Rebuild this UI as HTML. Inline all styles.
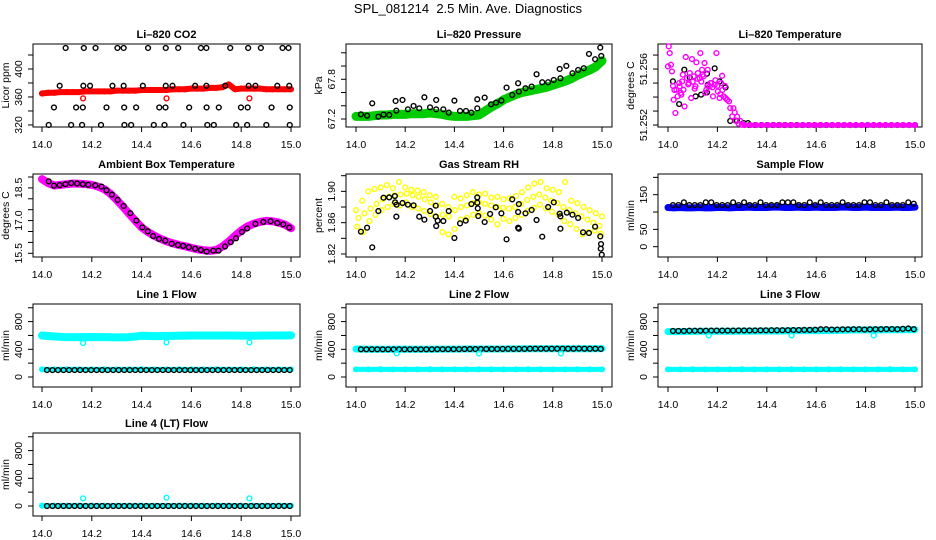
<!DOCTYPE html>
<html><head><meta charset="utf-8"><style>
html,body{margin:0;padding:0;background:#fff;}
svg{display:block;font-family:"Liberation Sans",Arial,sans-serif;}
</style></head><body>
<svg id="chart" width="936" height="540" viewBox="0 0 936 540" xmlns="http://www.w3.org/2000/svg">
<rect x="0" y="0" width="936" height="540" fill="#fff"/>
<text x="468" y="13" text-anchor="middle" font-size="13" xml:space="preserve" style="white-space:pre">SPL_081214  2.5 Min. Ave. Diagnostics</text>
</svg>
<script>
// ---------- data ----------
const co2Red=[365,366,366,367,367,367,367,368,368,368,368,368,369,369,369,369,370,370,370,370,370,371,371,371,372,372,372,373,373,374,378,371,372,372,372,372,371,371,371,371,371];
const co2RedOutX=[14.165,14.5,14.833];
const co2RedOut=[358,358,358];
const co2BlackX=[14.095,14.168,14.215,14.303,14.328,14.426,14.497,14.547,14.638,14.660,14.756,14.828,14.879,14.966,14.990,
14.071,14.166,14.193,14.283,14.328,14.405,14.497,14.524,14.615,14.660,14.736,14.830,14.857,14.945,14.993,
14.048,14.137,14.164,14.259,14.330,14.378,14.471,14.496,14.591,14.661,14.710,14.799,14.826,14.922,14.995,
14.027,14.117,14.161,14.237,14.331,14.358,14.449,14.492,14.568,14.664,14.690,14.780,14.824,14.901,14.995];
const co2Black=[430,430,430,430,430,430,430,430,430,430,430,430,430,430,430,
376,376,376,376,376,376,376,376,376,376,376,376,376,376,376,
345,345,345,345,345,345,345,345,345,345,345,345,345,345,345,
320,320,320,320,320,320,320,320,320,320,320,320,320,320,320];

const presGreen=[67.24,67.24,67.24,67.25,67.26,67.26,67.27,67.27,67.27,67.28,67.28,67.28,67.29,67.28,67.27,67.25,67.24,67.24,67.24,67.25,67.26,67.32,67.38,67.43,67.49,67.53,67.57,67.60,67.62,67.64,67.66,67.68,67.71,67.74,67.77,67.81,67.86,67.90,67.94,67.99,68.08];
const presBlackX=[14.020,14.045,14.066,14.091,14.112,14.135,14.161,14.164,14.189,14.211,14.234,14.257,14.278,14.301,14.326,14.326,14.355,14.377,14.400,14.423,14.447,14.469,14.493,14.493,14.523,14.549,14.569,14.591,14.612,14.635,14.659,14.662,14.689,14.714,14.734,14.757,14.781,14.804,14.828,14.831,14.855,14.880,14.903,14.926,14.947,14.972,14.993,14.997];
const presBlack=[67.271,67.250,67.437,67.235,67.266,67.261,67.472,67.326,67.487,67.346,67.397,67.361,67.528,67.376,67.487,67.346,67.346,67.296,67.477,67.321,67.321,67.296,67.498,67.361,67.523,67.422,67.447,67.477,67.674,67.563,67.740,67.614,67.664,67.689,67.876,67.755,67.755,67.790,67.956,67.815,68.002,67.891,67.941,67.967,68.183,68.103,68.279,68.153];

const tempMagX=[14.003,14.007,14.000,14.012,14.016,14.023,14.030,14.034,14.039,14.047,14.054,14.057,14.063,14.067,14.072,14.077,14.084,14.088,14.094,14.097,14.104,14.111,14.115,14.121,14.128,14.131,14.138,14.144,14.148,14.155,14.161,14.169,14.175,14.182,14.189,14.196,14.202,14.209,14.215,14.219,14.225,14.233,14.239,14.247,14.252,14.260,14.273,14.286,14.300,
14.020,14.045,14.060,14.100,14.120,14.140,14.160,14.180,14.200,14.220,14.240,14.265,14.270,14.280,14.292,
14.026,14.052,14.082,14.108,14.135,14.150,14.172,14.192,14.212,14.230];
const tempMag=[51.25762,51.25714,51.25619,51.25631,51.25583,51.25381,51.25286,51.25452,51.25405,51.25476,51.25417,51.25512,51.25452,51.25333,51.25686,51.25536,51.25500,51.25571,51.25393,51.25671,51.25548,51.25476,51.25648,51.25571,51.25536,51.25714,51.25595,51.25548,51.25643,51.25452,51.25595,51.25476,51.25500,51.25405,51.25488,51.25714,51.25440,51.25393,51.25500,51.25552,51.25405,51.25393,51.25381,51.25369,51.25321,51.25262,51.25231,51.25210,51.25202,
51.2548,51.2550,51.2556,51.2551,51.2553,51.2556,51.2548,51.2547,51.2548,51.2545,51.2538,51.2532,51.2529,51.2526,51.2523,
51.2545,51.2543,51.2549,51.2546,51.2551,51.2543,51.2550,51.2552,51.2542,51.2548];
const tempFlat=[51.2520,51.2520,51.2520,51.2520,51.2520,51.2520,51.2520,51.2520,51.2520,51.2520,51.2520,51.2520,51.2520,51.2520,51.2520,51.2520,51.2520,51.2520,51.2520,51.2520,51.2520,51.2520,51.2520,51.2520,51.2520,51.2520,51.2520,51.2520,51.2520,51.2520];
const tempBlackX=[14.020,14.045,14.066,14.088,14.112,14.134,14.158,14.161,14.158,14.189,14.209,14.233,14.252,14.279,14.306,14.324];
const tempBlack=[51.25512,51.25350,51.25595,51.25540,51.25405,51.25417,51.25433,51.25488,51.25567,51.25605,51.25512,51.25469,51.25229,51.25231,51.25214,51.25214];
const tempBlackFlat=[51.2520,51.2520,51.2520,51.2520,51.2520,51.2520,51.2520,51.2520,51.2520,51.2520,51.2520,51.2520,51.2520,51.2520,51.2520,51.2520,51.2520,51.2520,51.2520,51.2520,51.2520,51.2520,51.2520,51.2520,51.2520,51.2520,51.2520,51.2520,51.2520];

const ambMag=[18.90,18.72,18.61,18.64,18.67,18.70,18.69,18.67,18.64,18.56,18.44,18.23,17.95,17.64,17.31,16.99,16.69,16.48,16.31,16.17,16.05,15.96,15.88,15.82,15.75,15.68,15.64,15.61,15.65,15.81,16.04,16.30,16.54,16.73,16.85,16.94,16.99,16.97,16.91,16.82,16.65];
const ambBlackX=[14.027,14.048,14.071,14.094,14.117,14.141,14.164,14.186,14.214,14.239,14.259,14.281,14.304,14.328,14.355,14.379,14.403,14.425,14.446,14.470,14.495,14.521,14.546,14.567,14.590,14.615,14.638,14.661,14.688,14.709,14.735,14.758,14.779,14.803,14.824,14.857,14.889,14.918,14.945,14.969,14.993];
const ambBlack=[18.80,18.60,18.63,18.67,18.72,18.70,18.67,18.64,18.62,18.56,18.39,18.19,17.95,17.67,17.34,17.00,16.69,16.51,16.29,16.16,16.08,15.94,15.88,15.84,15.78,15.71,15.65,15.58,15.62,15.62,15.81,16.01,16.19,16.48,16.64,16.85,16.94,16.97,16.89,16.83,16.68];

const rhMid=[1.866,1.872,1.878,1.884,1.890,1.893,1.895,1.896,1.897,1.895,1.893,1.890,1.886,1.882,1.870,1.868,1.876,1.880,1.882,1.885,1.886,1.884,1.882,1.880,1.879,1.878,1.880,1.884,1.889,1.893,1.896,1.892,1.888,1.885,1.880,1.876,1.872,1.868,1.864,1.860,1.856];
const rhHi=[1.876,1.888,1.900,1.903,1.905,1.908,1.904,1.912,1.905,1.902,1.901,1.899,1.895,1.893,1.884,1.880,1.893,1.891,1.895,1.899,1.896,1.897,1.892,1.893,1.890,1.891,1.894,1.899,1.905,1.910,1.912,1.904,1.902,1.899,1.912,1.888,1.885,1.880,1.876,1.872,1.868];
const rhLo=[1.855,1.848,1.862,1.870,1.876,1.880,1.884,1.882,1.886,1.880,1.878,1.875,1.871,1.868,1.848,1.845,1.852,1.864,1.866,1.870,1.872,1.869,1.864,1.858,1.865,1.862,1.866,1.870,1.875,1.879,1.883,1.878,1.874,1.870,1.862,1.858,1.852,1.845,1.848,1.850,1.846];
const rhBlackX=[14.020,14.045,14.066,14.091,14.112,14.135,14.158,14.159,14.164,14.165,14.189,14.211,14.234,14.257,14.278,14.301,14.324,14.324,14.326,14.332,14.355,14.377,14.400,14.423,14.446,14.469,14.493,14.493,14.495,14.497,14.523,14.545,14.568,14.591,14.612,14.635,14.659,14.659,14.662,14.662,14.689,14.714,14.734,14.757,14.781,14.804,14.828,14.831,14.831,14.857,14.880,14.903,14.923,14.947,14.972,14.993,14.996,14.995,14.999];
const rhBlack=[1.8485,1.8536,1.8285,1.8749,1.8919,1.8923,1.8940,1.8860,1.8677,1.8830,1.8851,1.8830,1.8821,1.8677,1.8638,1.8749,1.8817,1.8677,1.8557,1.8626,1.8621,1.8749,1.8404,1.8591,1.8626,1.8838,1.8923,1.8855,1.8783,1.8685,1.8608,1.8711,1.8796,1.8719,1.8387,1.8898,1.8736,1.8536,1.8523,1.8838,1.8719,1.8762,1.8634,1.8421,1.8800,1.8860,1.8715,1.8681,1.8523,1.8728,1.8702,1.8660,1.8477,1.8468,1.8549,1.8425,1.8327,1.8268,1.8191];

const sampleBlue=[113,112,113,112,112,113,112,112,113,113,112,113,113,114,113,113,113,114,114,113,113,114,113,113,114,113,113,113,114,114,113,113,114,113,113,113,113,114,113,113,114];
const sampleBlack=[120,120,128,120,120,120,128,128,120,120,120,128,120,128,120,120,128,120,120,120,128,128,128,120,120,128,120,128,120,120,120,128,120,120,120,128,128,120,120,128,120,120,120,128,124];

const line1Hi=[600,585,575,575,578,575,572,575,595,590,592,595,600,600,600,600,598,595,600,600,602];
const line1Lo=[110,110,112,110,110,111,110,110,112,110,110,111,110,110,112,110,110,111,110,110,110];
const line1Black=[100,100,100,100,100,100,100,100,100,100,100,100,100,100,100,100,100,100,100,100,100,100,100,100,100,100,100,100,100,100,100,100,100,100,100,100,100,100,100,100,100,100,100,100,100];
const line1OutX=[14.165,14.5,14.833];
const line1Out=[490,500,500];

const line2Hi=[405,400,400,400,402,400,400,402,402,404,404,405,405,406,408,408,408,408,408,408,410];
const line2Lo=[110,110,111,110,110,110,111,110,110,110,111,110,110,110,111,110,110,110,111,110,110];
const line2Black=[400,400,400,400,400,400,400,400,400,400,400,400,400,400,402,402,402,402,402,404,404,404,404,404,404,404,406,406,406,406,406,408,408,408,408,408,408,408,408,408,410,408,408,408,405];
const line2OutX=[14.165,14.5,14.833];
const line2Out=[340,340,340];

const line3Hi=[655,655,658,660,660,660,662,662,665,665,668,670,670,672,675,678,680,680,682,682,685];
const line3Lo=[110,110,111,110,110,110,111,110,110,110,111,110,110,110,111,110,110,110,111,110,110];
const line3Black=[665,665,665,668,668,668,668,670,670,670,670,670,672,672,672,672,674,674,675,675,676,676,678,678,680,680,682,690,690,685,685,688,688,690,690,685,688,690,690,692,692,690,695,700,690];
const line3OutX=[14.165,14.5,14.833];
const line3Out=[600,600,600];

const line4Cyan=[5,5,5,5,5,5,5,5,5,5,5,5,5,5,5,5,5,5,5,5,5];
const line4Black=[0,0,0,0,0,0,0,0,0,0,0,0,0,0,0,0,0,0,0,0,0,0,0,0,0,0,0,0,0,0,0,0,0,0,0,0,0,0,0,0,0,0,0,0,0];
const line4OutX=[14.165,14.5,14.833];
const line4Out=[110,120,110];

const xTicks=[14.0,14.2,14.4,14.6,14.8,15.0];
const xTickLabels=["14.0","14.2","14.4","14.6","14.8","15.0"];

// ---------- rendering ----------
const NS="http://www.w3.org/2000/svg";
const svg=document.getElementById('chart');
const colL=[33,346,658], colW=[267,266,264], colXa=[42,356,668], colXb=[291,602,915];
const rowT=[44,174,304,433], H=83;
function mk(tag,attrs,parent){const e=document.createElementNS(NS,tag);for(const k in attrs)e.setAttribute(k,attrs[k]);(parent||svg).appendChild(e);return e;}

function panel(name,col,row,title,ylab,lo,hi,ticks,labels){
  const g=mk('g',{});
  
  
  const L=colL[col],T=rowT[row],W=colW[col],B=T+H;
  const sx=v=>colXa[col]+(v-14)*(colXb[col]-colXa[col]);
  const sy=v=>B-(v-lo)/(hi-lo)*H;
  const t=mk('text',{x:L+W/2,y:T-6,'text-anchor':'middle','font-size':'11','font-weight':'bold'},g);
  t.textContent=title;
  
  
  const box=mk('rect',{x:L,y:T,width:W,height:H,fill:'none',stroke:'#000','stroke-width':1},g);
  
  
  const xa=mk('g',{},g);
  
  
  xTicks.forEach((v,i)=>{
    mk('line',{x1:sx(v),x2:sx(v),y1:B,y2:B+5,stroke:'#000'},xa);
    const tl=mk('text',{x:sx(v),y:B+21,'text-anchor':'middle','font-size':'10.5'},xa);
    tl.textContent=xTickLabels[i];
  });
  const ya=mk('g',{},g);
  
  
  ticks.forEach(v=>{mk('line',{x1:L-5,x2:L,y1:sy(v),y2:sy(v),stroke:'#000'},ya);});
  labels.forEach(s=>{
    const y=sy(parseFloat(s)), x=L-11;
    const tl=mk('text',{x:x,y:y,'text-anchor':'middle','font-size':'10.5',transform:`rotate(-90 ${x} ${y})`},ya);
    tl.textContent=s;
  });
  const yx=L-24, yy=T+H/2;
  const yt=mk('text',{x:yx,y:yy,'text-anchor':'middle','font-size':'10.5',transform:`rotate(-90 ${yx} ${yy})`},g);
  yt.textContent=ylab;
  
  
  const data=mk('g',{},g);
  
  
  return {sx,sy,g:data};
}
function band(p,vals,color,w,x0,x1){
  x0=x0===undefined?14:x0; x1=x1===undefined?15:x1;
  const n=vals.length;
  const pts=vals.map((v,i)=>p.sx(x0+(x1-x0)*i/(n-1))+','+p.sy(v)).join(' ');
  const pl=mk('polyline',{points:pts,fill:'none',stroke:color,'stroke-width':w,'stroke-linejoin':'round','stroke-linecap':'round'},p.g);
  
  
  vals.forEach((v,i)=>{mk('circle',{cx:p.sx(x0+(x1-x0)*i/(n-1)),cy:p.sy(v),r:2.4,fill:'none',stroke:color,'stroke-width':1.3},p.g);});
}
function pts(p,xs,vs,color){
  vs.forEach((v,i)=>{
    const c=mk('circle',{cx:p.sx(xs[i]),cy:p.sy(v),r:2.4,fill:'none',stroke:color,'stroke-width':1.4},p.g);
    
    
  });
}
function even(vs,color,p,x0,x1){
  const n=vs.length;
  vs.forEach((v,i)=>{mk('circle',{cx:p.sx(x0+(x1-x0)*i/(n-1)),cy:p.sy(v),r:2.4,fill:'none',stroke:color,'stroke-width':1.4},p.g);});
}

// CO2
let p=panel('co2',0,0,'Li\u2013820 CO2','Licor ppm',317.1,435.7,[320,340,360,380,400,420],["320","360","400"]);
band(p,co2Red,'#ff0000',6);
pts(p,co2RedOutX,co2RedOut,'#ff0000');
pts(p,co2BlackX,co2Black,'#000');
// Pressure
p=panel('pressure',1,0,'Li\u2013820 Pressure','kPa',67.079,68.333,[67.2,67.4,67.6,67.8,68.0,68.2],["67.2","67.8"]);
band(p,presGreen,'#00cc00',9);
pts(p,presBlackX,presBlack,'#000');
// Temperature
p=panel('li820-temp',2,0,'Li\u2013820 Temperature','degrees C',51.25186,51.25779,[51.252,51.253,51.254,51.255,51.256,51.257],["51.252","51.256"]);
pts(p,tempBlackX,tempBlack,'#000');
even(tempBlackFlat,'#000',p,14.33,15.0);
pts(p,tempMagX,tempMag,'#ff00ff');
band(p,tempFlat,'#ff00ff',4,14.31,15.0);
// Ambient
p=panel('ambient-temp',0,1,'Ambient Box Temperature','degrees C',15.330,19.137,[15.5,16.0,16.5,17.0,17.5,18.0,18.5,19.0],["15.5","17.0","18.5"]);
band(p,ambMag,'#ff00ff',8);
pts(p,ambBlackX,ambBlack,'#000');
// RH
p=panel('gas-rh',1,1,'Gas Stream RH','percent',1.81617,1.92217,[1.82,1.84,1.86,1.88,1.90,1.92],["1.82","1.86","1.90"]);
even(rhHi,'#ffff00',p,14.0,15.0);
even(rhMid,'#ffff00',p,14.01,14.99);
even(rhLo,'#ffff00',p,14.005,14.995);
pts(p,rhBlackX,rhBlack,'#000');
// Sample flow
p=panel('sample-flow',2,1,'Sample Flow','ml/min',-29.7,209.7,[0,50,100,150,200],["0","50","150"]);
band(p,sampleBlue,'#0000ff',7);
even(sampleBlack,'#000',p,14.02,14.995);
// Line flows
const fT=[0,200,400,600,800,1000], fL=["0","400","800"];
p=panel('line1-flow',0,2,'Line 1 Flow','ml/min',-144.4,1054.2,fT,fL);
band(p,line1Hi,'#00ffff',8); band(p,line1Lo,'#00ffff',5);
even(line1Black,'#000',p,14.02,14.995);
pts(p,line1OutX,line1Out,'#00ffff');
p=panel('line2-flow',1,2,'Line 2 Flow','ml/min',-144.4,1054.2,fT,fL);
band(p,line2Hi,'#00ffff',7); band(p,line2Lo,'#00ffff',5);
even(line2Black,'#000',p,14.02,14.995);
pts(p,line2OutX,line2Out,'#00ffff');
p=panel('line3-flow',2,2,'Line 3 Flow','ml/min',-144.4,1054.2,fT,fL);
band(p,line3Hi,'#00ffff',7); band(p,line3Lo,'#00ffff',5);
even(line3Black,'#000',p,14.02,14.995);
pts(p,line3OutX,line3Out,'#00ffff');
p=panel('line4-flow',0,3,'Line 4 (LT) Flow','ml/min',-144.4,1054.2,fT,fL);
band(p,line4Cyan,'#00ffff',5);
even(line4Black,'#000',p,14.02,14.995);
pts(p,line4OutX,line4Out,'#00ffff');
</script>
</body></html>
